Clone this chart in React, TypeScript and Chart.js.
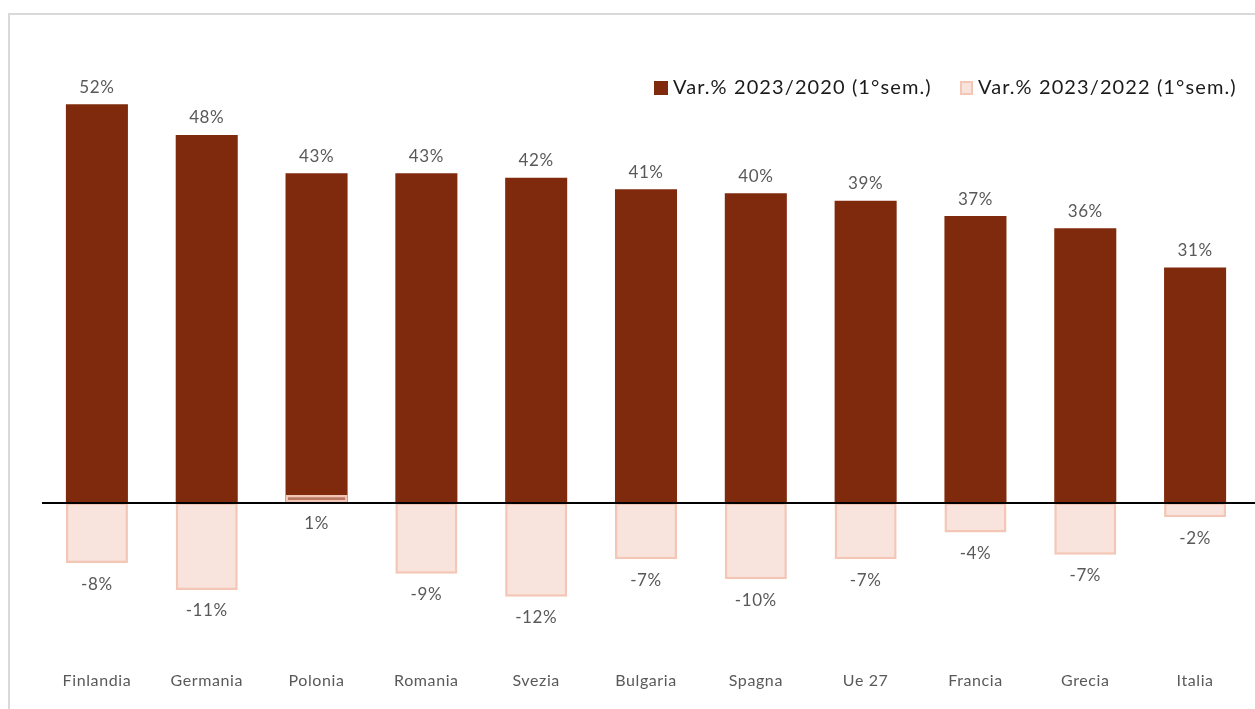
import { useEffect, useRef } from 'react';
import { Chart, registerables } from 'chart.js';

Chart.register(...registerables);

const categories = ['Finlandia', 'Germania', 'Polonia', 'Romania', 'Svezia', 'Bulgaria', 'Spagna', 'Ue 27', 'Francia', 'Grecia', 'Italia'];
const var2020 = [52.0, 48.0, 43.0, 43.0, 42.4, 40.9, 40.4, 39.4, 37.4, 35.8, 30.7];
const var2022 = [-7.9, -11.4, 1.0, -9.3, -12.3, -7.4, -10.0, -7.4, -3.9, -6.8, -1.9];
const seriesNames = ['Var.% 2023/2020 (1°sem.)', 'Var.% 2023/2022 (1°sem.)'];

const DARK = '#7F2A0C';
const LIGHT_FILL = 'rgba(241,199,187,0.5)';
const LIGHT_BORDER = '#F3C6B6';
const FONT = 'Lato, "Open Sans", sans-serif';
const LABEL_COLOR = '#595959';

export default function App() {
  const ref = useRef<HTMLCanvasElement>(null);

  useEffect(() => {
    const canvas = ref.current!;
    const plugin = {
      id: 'customDraw',
      beforeDraw(chart: any) {
        chart.ctx.letterSpacing = '0.6px';
      },
      afterDatasetsDraw(chart: any) {
        const ctx = chart.ctx;
        const ys = chart.scales.y;
        ctx.save();
        const y0 = Math.round(ys.getPixelForValue(0));
        ctx.strokeStyle = '#000';
        ctx.lineWidth = 2;
        ctx.beginPath();
        ctx.moveTo(chart.chartArea.left, y0);
        ctx.lineTo(chart.width, y0);
        ctx.stroke();

        ctx.font = `17px ${FONT}`;
        ctx.fillStyle = LABEL_COLOR;
        ctx.textAlign = 'center';
        ctx.textBaseline = 'middle';
        ctx.letterSpacing = '0.6px';
        const m0 = chart.getDatasetMeta(0);
        m0.data.forEach((bar: any, i: number) => {
          const v = var2020[i];
          ctx.fillText(`${Math.round(v)}%`, bar.x, ys.getPixelForValue(Math.max(v, 0)) - 17);
        });
        const m1 = chart.getDatasetMeta(1);
        m1.data.forEach((bar: any, i: number) => {
          const v = var2022[i];
          ctx.fillText(`${Math.round(v)}%`, bar.x, ys.getPixelForValue(Math.min(v, 0)) + 21);
        });
        ctx.restore();
      },
      afterDraw(chart: any) {
        const ctx = chart.ctx;
        ctx.save();
        ctx.font = `20px ${FONT}`;
        ctx.letterSpacing = '1.1px';
        ctx.textAlign = 'left';
        ctx.textBaseline = 'middle';
        const ly = 88;
        ctx.fillStyle = DARK;
        ctx.fillRect(654, 81, 14, 14);
        ctx.fillStyle = '#1a1a1a';
        ctx.fillText(seriesNames[0], 673, ly);
        ctx.fillStyle = '#F9E3DD';
        ctx.fillRect(960, 81, 13, 14);
        ctx.strokeStyle = LIGHT_BORDER;
        ctx.lineWidth = 2;
        ctx.strokeRect(961, 82, 11, 12);
        ctx.fillStyle = '#1a1a1a';
        ctx.fillText(seriesNames[1], 978, ly);
        ctx.restore();
      },
    };

    const chart = new Chart(canvas, {
      type: 'bar',
      data: {
        labels: categories,
        datasets: [
          {
            label: seriesNames[0],
            data: var2020,
            backgroundColor: DARK,
            borderWidth: 0,
            order: 2,
          },
          {
            label: seriesNames[1],
            data: var2022,
            backgroundColor: LIGHT_FILL,
            borderColor: LIGHT_BORDER,
            borderWidth: 2.5,
            borderSkipped: false,
            order: 1,
          },
        ],
      },
      options: {
        animation: false,
        responsive: false,
        devicePixelRatio: 1,
        layout: { padding: { left: 42, right: 5, top: 43, bottom: 4 } },
        datasets: { bar: { categoryPercentage: 1, barPercentage: 0.565 } } as any,
        plugins: {
          legend: { display: false },
          tooltip: { enabled: false },
        },
        scales: {
          x: {
            stacked: true,
            grid: { display: false, drawTicks: false },
            border: { display: false },
            ticks: {
              color: LABEL_COLOR,
              font: { family: FONT, size: 16 },
              padding: 15,
              maxRotation: 0,
              autoSkip: false,
            },
          },
          y: {
            stacked: false,
            display: false,
            min: -20,
            max: 60,
          },
        },
      },
      plugins: [plugin],
    });
    return () => chart.destroy();
  }, []);

  return (
    <div style={{ position: 'fixed', left: 0, top: 0, width: 1255, height: 709, background: '#fff', overflow: 'hidden' }}>
      <div
        style={{
          position: 'absolute',
          left: 8,
          top: 13,
          width: 1270,
          height: 720,
          border: '2px solid #D9D9D9',
          boxSizing: 'border-box',
        }}
      />
      <canvas ref={ref} width={1255} height={709} style={{ position: 'absolute', left: 0, top: 0 }} />
    </div>
  );
}
